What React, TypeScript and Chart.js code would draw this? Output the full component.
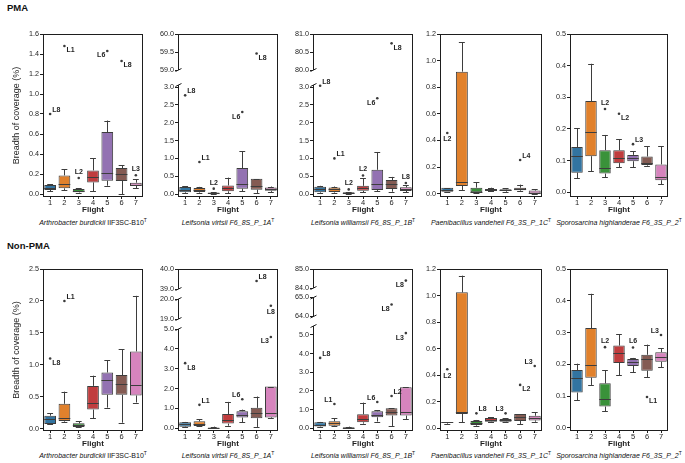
import React, { useEffect, useRef } from 'react';
import { Chart, registerables, LinearScale } from 'chart.js';

Chart.register(...registerables);

const FONT = '"Liberation Sans", Arial, Helvetica, sans-serif';
const INK = '#1e1e1e';
const LINE = '#3d3d3d';
const BOX_COLORS = ['#3274a1', '#e1812c', '#3a923a', '#c03d3e', '#9372b2', '#845b53', '#d684bd'];
const FLIGHTS = ['1', '2', '3', '4', '5', '6', '7'];

// ---- data: [whisker low, Q1, median, Q3, whisker high] per flight ----
const PMA_ARTHRO_STATS = [
  [0.03, 0.04, 0.065, 0.09, 0.10],
  [0.04, 0.057, 0.10, 0.186, 0.25],
  [0.013, 0.017, 0.033, 0.05, 0.057],
  [0.03, 0.116, 0.166, 0.236, 0.36],
  [0.083, 0.133, 0.21, 0.62, 0.735],
  [0.0, 0.13, 0.20, 0.26, 0.286],
  [0.057, 0.083, 0.095, 0.113, 0.15],
];
const PMA_ARTHRO_OUT: [number, number, string][] = [[1, 0.80, 'L8'], [2, 1.48, 'L1'], [3, 0.16, 'L2'], [5, 1.43, 'L6'], [6, 1.33, 'L8'], [7, 0.187, 'L3']];
const PMA_ARTHRO_TICKS = [0, 0.2, 0.4, 0.6, 0.8, 1.0, 1.2, 1.4, 1.6];

const PMA_VIRTSII_STATS = [
  [0.02, 0.047, 0.12, 0.196, 0.22],
  [0.04, 0.056, 0.11, 0.17, 0.20],
  [0.0, 0.005, 0.02, 0.04, 0.05],
  [0.03, 0.075, 0.16, 0.24, 0.46],
  [0.084, 0.15, 0.29, 0.73, 1.20],
  [0.03, 0.12, 0.23, 0.43, 0.43],
  [0.06, 0.09, 0.13, 0.18, 0.21],
];
const PMA_VIRTSII_OUT: [number, number, string][] = [[1, 2.77, 'L8'], [2, 0.90, 'L1'], [3, 0.15, 'L2'], [5, 2.30, 'L6'], [6, 59.46, 'L8']];
const PMA_VIRTSII_TICKS = [0, 0.5, 1.0, 1.5, 2.0, 2.5, 3.0, 59.0, 59.5, 60.0];

const PMA_WILLIAMSII_STATS = [
  [0.03, 0.047, 0.14, 0.205, 0.23],
  [0.04, 0.056, 0.13, 0.186, 0.21],
  [0.0, 0.01, 0.03, 0.047, 0.056],
  [0.05, 0.09, 0.17, 0.23, 0.44],
  [0.084, 0.11, 0.27, 0.68, 1.18],
  [0.065, 0.14, 0.27, 0.39, 0.48],
  [0.056, 0.084, 0.13, 0.187, 0.24],
];
const PMA_WILLIAMSII_OUT: [number, number, string][] = [[1, 3.04, 'L8'], [2, 1.0, 'L1'], [3, 0.13, 'L2'], [4, 0.52, 'L2'], [5, 2.69, 'L6'], [6, 80.74, 'L8'], [7, 0.31, 'L8']];
const PMA_WILLIAMSII_TICKS = [0, 0.5, 1.0, 1.5, 2.0, 2.5, 3.0, 80.0, 80.5, 81.0];

const PMA_VANDEHEII_STATS = [
  [0.015, 0.015, 0.03, 0.045, 0.045],
  [0.028, 0.058, 0.088, 0.917, 1.137],
  [0.008, 0.01, 0.015, 0.045, 0.085],
  [0.018, 0.02, 0.028, 0.035, 0.045],
  [0.015, 0.02, 0.027, 0.033, 0.04],
  [0.02, 0.025, 0.035, 0.045, 0.068],
  [0.0, 0.002, 0.008, 0.023, 0.033],
];
const PMA_VANDEHEII_OUT: [number, number, string][] = [[1, 0.456, 'L2'], [6, 0.253, 'L4']];
const PMA_VANDEHEII_TICKS = [0, 0.2, 0.4, 0.6, 0.8, 1.0, 1.2];

const PMA_HIGHLANDERAE_STATS = [
  [0.045, 0.062, 0.114, 0.143, 0.202],
  [0.067, 0.114, 0.189, 0.288, 0.406],
  [0.047, 0.059, 0.077, 0.133, 0.181],
  [0.079, 0.092, 0.109, 0.133, 0.167],
  [0.079, 0.098, 0.109, 0.118, 0.129],
  [0.084, 0.086, 0.093, 0.113, 0.146],
  [0.025, 0.038, 0.048, 0.088, 0.145],
];
const PMA_HIGHLANDERAE_OUT: [number, number, string][] = [[3, 0.263, 'L2'], [4, 0.248, 'L2'], [5, 0.152, 'L3']];
const PMA_HIGHLANDERAE_TICKS = [0, 0.1, 0.2, 0.3, 0.4, 0.5];

const NON_ARTHRO_STATS = [
  [0.068, 0.073, 0.146, 0.204, 0.24],
  [0.11, 0.12, 0.17, 0.39, 0.58],
  [0.02, 0.026, 0.058, 0.084, 0.115],
  [0.16, 0.30, 0.41, 0.67, 0.83],
  [0.33, 0.53, 0.76, 0.88, 1.07],
  [0.094, 0.53, 0.70, 0.84, 1.245],
  [0.41, 0.52, 0.69, 1.21, 2.08],
];
const NON_ARTHRO_OUT: [number, number, string][] = [[1, 1.10, 'L8'], [2, 2.0, 'L1']];
const NON_ARTHRO_TICKS = [0, 0.5, 1.0, 1.5, 2.0, 2.5];

const NON_VIRTSII_STATS = [
  [0.067, 0.084, 0.20, 0.30, 0.32],
  [0.10, 0.118, 0.236, 0.35, 0.45],
  [0.0, 0.0, 0.02, 0.05, 0.084],
  [0.13, 0.236, 0.40, 0.72, 1.33],
  [0.30, 0.54, 0.69, 0.86, 0.94],
  [0.067, 0.505, 0.76, 1.03, 1.6],
  [0.5, 0.55, 0.78, 2.1, 2.1],
];
const NON_VIRTSII_OUT: [number, number, string][] = [[1, 3.28, 'L8'], [2, 1.18, 'L1'], [5, 1.46, 'L6'], [6, 39.4, 'L8'], [7, 19.66, 'L8'], [7, 4.6, 'L3']];
const NON_VIRTSII_TICKS = [0, 1, 2, 3, 4, 5, 19, 20, 39, 40];

const NON_WILLIAMSII_STATS = [
  [0.07, 0.09, 0.20, 0.32, 0.34],
  [0.125, 0.14, 0.27, 0.375, 0.54],
  [0.0, 0.0, 0.03, 0.07, 0.09],
  [0.25, 0.32, 0.48, 0.75, 1.375],
  [0.36, 0.59, 0.73, 0.91, 0.96],
  [0.125, 0.68, 0.86, 1.07, 1.07],
  [0.5, 0.68, 0.88, 2.2, 2.2],
];
const NON_WILLIAMSII_OUT: [number, number, string][] = [[1, 3.77, 'L8'], [2, 1.3, 'L1'], [5, 1.41, 'L6'], [6, 1.73, 'L2'], [6, 64.63, 'L8'], [7, 84.39, 'L8'], [7, 5.1, 'L3']];
const NON_WILLIAMSII_TICKS = [0, 1, 2, 3, 4, 5, 64, 65, 84, 85];

const NON_VANDEHEII_STATS = [
  [0.035, 0.044, 0.046, 0.048, 0.048],
  [0.045, 0.108, 0.123, 1.024, 1.15],
  [0.02, 0.025, 0.043, 0.055, 0.063],
  [0.048, 0.05, 0.065, 0.078, 0.085],
  [0.048, 0.05, 0.06, 0.07, 0.075],
  [0.033, 0.055, 0.088, 0.108, 0.108],
  [0.05, 0.06, 0.08, 0.095, 0.12],
];
const NON_VANDEHEII_OUT: [number, number, string][] = [[1, 0.445, 'L2'], [3, 0.113, 'L8'], [5, 0.113, 'L3'], [6, 0.327, 'L2'], [7, 0.47, 'L3']];
const NON_VANDEHEII_TICKS = [0, 0.2, 0.4, 0.6, 0.8, 1.0, 1.2];

const NON_HIGHLANDERAE_STATS = [
  [0.087, 0.111, 0.157, 0.182, 0.202],
  [0.135, 0.158, 0.197, 0.314, 0.422],
  [0.052, 0.067, 0.091, 0.14, 0.181],
  [0.166, 0.204, 0.237, 0.259, 0.295],
  [0.175, 0.195, 0.208, 0.217, 0.22],
  [0.16, 0.18, 0.217, 0.23, 0.262],
  [0.19, 0.208, 0.224, 0.238, 0.25],
];
const NON_HIGHLANDERAE_OUT: [number, number, string][] = [[3, 0.254, 'L2'], [5, 0.253, 'L6'], [6, 0.097, 'L1'], [7, 0.292, 'L3']];
const NON_HIGHLANDERAE_TICKS = [0, 0.1, 0.2, 0.3, 0.4, 0.5];

// ---- label placement (style, kept apart from the data) ----
const PMA_ARTHRO_POS = ['ur', 'dr', 'a', 'dl', 'dr', 'a'];
const PMA_VIRTSII_POS = ['ur', 'ur', 'a', 'dl', 'dr'];
const PMA_WILLIAMSII_POS = ['ur', 'ur', 'a', 'a', 'dl', 'dr', 'a'];
const PMA_VANDEHEII_POS = ['b', 'ur'];
const PMA_HIGHLANDERAE_POS = ['a', 'dr', 'ur'];
const NON_ARTHRO_POS = ['dr', 'ur'];
const NON_VIRTSII_POS = ['dr', 'ur', 'ul', 'ur', 'b', 'dl'];
const NON_WILLIAMSII_POS = ['ur', 'ul', 'ul', 'ur', 'dl', 'dl', 'dl'];
const NON_VANDEHEII_POS = ['b', 'ur', 'ul', 'dr', 'ul'];
const NON_HIGHLANDERAE_POS = ['a', 'a', 'dr', 'ul'];

type Seg = { min: number; max: number; h: number };
type PanelCfg = {
  row: number; col: number; left: number; width: number;
  stats: number[][]; out: [number, number, string][]; pos: string[]; ticks: number[];
  segs: Seg[]; gap: number; species: string; strain: string; strainItalic: boolean;
};

const LEFTS = [43, 178, 313, 440, 570];
const WIDTHS = [100, 100, 100, 102, 98];

const PANELS: PanelCfg[] = [
  { row: 0, col: 0, left: LEFTS[0], width: WIDTHS[0], stats: PMA_ARTHRO_STATS, out: PMA_ARTHRO_OUT, pos: PMA_ARTHRO_POS, ticks: PMA_ARTHRO_TICKS,
    segs: [{ min: -0.03, max: 1.6, h: 163 }], gap: 0, species: 'Arthrobacter burdickii', strain: 'IIF3SC-B10', strainItalic: false },
  { row: 0, col: 1, left: LEFTS[1], width: WIDTHS[1], stats: PMA_VIRTSII_STATS, out: PMA_VIRTSII_OUT, pos: PMA_VIRTSII_POS, ticks: PMA_VIRTSII_TICKS,
    segs: [{ min: -0.084, max: 3.06, h: 112 }, { min: 59, max: 60, h: 36 }], gap: 15, species: 'Leifsonia virtsii', strain: 'F6_8S_P_1A', strainItalic: true },
  { row: 0, col: 2, left: LEFTS[2], width: WIDTHS[2], stats: PMA_WILLIAMSII_STATS, out: PMA_WILLIAMSII_OUT, pos: PMA_WILLIAMSII_POS, ticks: PMA_WILLIAMSII_TICKS,
    segs: [{ min: -0.084, max: 3.06, h: 112 }, { min: 80, max: 81, h: 36 }], gap: 15, species: 'Leifsonia williamsii', strain: 'F6_8S_P_1B', strainItalic: true },
  { row: 0, col: 3, left: LEFTS[3], width: WIDTHS[3], stats: PMA_VANDEHEII_STATS, out: PMA_VANDEHEII_OUT, pos: PMA_VANDEHEII_POS, ticks: PMA_VANDEHEII_TICKS,
    segs: [{ min: -0.025, max: 1.2, h: 163 }], gap: 0, species: 'Paenibacillus vandeheii', strain: 'F6_3S_P_1C', strainItalic: true },
  { row: 0, col: 4, left: LEFTS[4], width: WIDTHS[4], stats: PMA_HIGHLANDERAE_STATS, out: PMA_HIGHLANDERAE_OUT, pos: PMA_HIGHLANDERAE_POS, ticks: PMA_HIGHLANDERAE_TICKS,
    segs: [{ min: -0.015, max: 0.5, h: 163 }], gap: 0, species: 'Sporosarcina highlanderae', strain: 'F6_3S_P_2', strainItalic: true },
  { row: 1, col: 0, left: LEFTS[0], width: WIDTHS[0], stats: NON_ARTHRO_STATS, out: NON_ARTHRO_OUT, pos: NON_ARTHRO_POS, ticks: NON_ARTHRO_TICKS,
    segs: [{ min: -0.036, max: 2.5, h: 162 }], gap: 0, species: 'Arthrobacter burdickii', strain: 'IIF3SC-B10', strainItalic: false },
  { row: 1, col: 1, left: LEFTS[1], width: WIDTHS[1], stats: NON_VIRTSII_STATS, out: NON_VIRTSII_OUT, pos: NON_VIRTSII_POS, ticks: NON_VIRTSII_TICKS,
    segs: [{ min: -0.136, max: 5.0, h: 102 }, { min: 19, max: 20, h: 20 }, { min: 39, max: 40, h: 20 }], gap: 10, species: 'Leifsonia virtsii', strain: 'F6_8S_P_1A', strainItalic: true },
  { row: 1, col: 2, left: LEFTS[2], width: WIDTHS[2], stats: NON_WILLIAMSII_STATS, out: NON_WILLIAMSII_OUT, pos: NON_WILLIAMSII_POS, ticks: NON_WILLIAMSII_TICKS,
    segs: [{ min: -0.145, max: 5.48, h: 105 }, { min: 64, max: 65, h: 19 }, { min: 84, max: 85, h: 19 }], gap: 9.5, species: 'Leifsonia williamsii', strain: 'F6_8S_P_1B', strainItalic: true },
  { row: 1, col: 3, left: LEFTS[3], width: WIDTHS[3], stats: NON_VANDEHEII_STATS, out: NON_VANDEHEII_OUT, pos: NON_VANDEHEII_POS, ticks: NON_VANDEHEII_TICKS,
    segs: [{ min: -0.02, max: 1.2, h: 162 }], gap: 0, species: 'Paenibacillus vandeheii', strain: 'F6_3S_P_1C', strainItalic: true },
  { row: 1, col: 4, left: LEFTS[4], width: WIDTHS[4], stats: NON_HIGHLANDERAE_STATS, out: NON_HIGHLANDERAE_OUT, pos: NON_HIGHLANDERAE_POS, ticks: NON_HIGHLANDERAE_TICKS,
    segs: [{ min: -0.01, max: 0.5, h: 162 }], gap: 0, species: 'Sporosarcina highlanderae', strain: 'F6_3S_P_2', strainItalic: true },
];

const ROW_TOP = [28, 263];
const ROW_H = [187, 186];
const PAD_TOP = 6;
const X_AXIS_H = 18;
const PAD_RIGHT = 4;

function panelOf(chart: any): PanelCfg {
  return PANELS[Number(chart.canvas.dataset.panel)];
}

// Piecewise (broken) linear value axis
class BrokenScale extends (LinearScale as any) {
  static id = 'broken';
  static defaults = {};
  determineDataLimits() {
    const segs = panelOf(this.chart).segs;
    this.min = segs[0].min;
    this.max = segs[segs.length - 1].max;
  }
  buildTicks() {
    return panelOf(this.chart).ticks.map((value) => ({ value }));
  }
  getPixelForValue(v: number) {
    const { segs, gap } = panelOf(this.chart);
    const total = segs.reduce((a, s) => a + s.h, 0) + gap * (segs.length - 1);
    const k = (this.bottom - this.top) / total;
    let base = this.bottom;
    for (let i = 0; i < segs.length; i++) {
      const s = segs[i];
      const h = s.h * k;
      if (v <= s.max || i === segs.length - 1) {
        const t = Math.min(1, Math.max(0, (v - s.min) / (s.max - s.min)));
        return base - t * h;
      }
      base -= h + gap * k;
    }
    return this.bottom;
  }
  getValueForPixel(px: number) {
    const { segs, gap } = panelOf(this.chart);
    const total = segs.reduce((a, s) => a + s.h, 0) + gap * (segs.length - 1);
    const k = (this.bottom - this.top) / total;
    let base = this.bottom;
    for (let i = 0; i < segs.length; i++) {
      const s = segs[i];
      const h = s.h * k;
      if (px >= base - h || i === segs.length - 1) {
        return s.min + ((base - px) / h) * (s.max - s.min);
      }
      base -= h + gap * k;
    }
    return segs[0].min;
  }
}
Chart.register(BrokenScale as any);

const LABEL_OFF: Record<string, [number, number, CanvasTextAlign]> = {
  ur: [2, -4, 'left'],
  dr: [2, 4.5, 'left'],
  ul: [-2, -4, 'right'],
  dl: [-2, 4.5, 'right'],
  a: [0, -6, 'center'],
  b: [0, 6.5, 'center'],
};

const crisp = (v: number) => Math.round(v) + 0.5;

const boxPlugin = {
  id: 'boxDecor',
  afterDatasetsDraw(chart: any) {
    const p = panelOf(chart);
    const ctx: CanvasRenderingContext2D = chart.ctx;
    const xs = chart.scales.x;
    const ys = chart.scales.y;
    const ca = chart.chartArea;
    const catW = (ca.right - ca.left) / FLIGHTS.length;
    const boxW = catW * 0.82;
    const capW = boxW * 0.5;
    ctx.save();
    ctx.strokeStyle = LINE;
    ctx.lineWidth = 1;
    const seg = (x1: number, y1: number, x2: number, y2: number) => {
      ctx.beginPath();
      ctx.moveTo(x1, y1);
      ctx.lineTo(x2, y2);
      ctx.stroke();
    };
    p.stats.forEach((s, i) => {
      const cx = xs.getPixelForValue(i);
      const [wlo, q1, med, q3, whi] = s.map((v) => ys.getPixelForValue(v));
      const xc = crisp(cx);
      seg(xc, q1, xc, wlo);
      seg(cx - capW / 2, crisp(wlo), cx + capW / 2, crisp(wlo));
      seg(xc, q3, xc, whi);
      seg(cx - capW / 2, crisp(whi), cx + capW / 2, crisp(whi));
      seg(cx - boxW / 2, crisp(med), cx + boxW / 2, crisp(med));
    });

    // frame
    ctx.strokeStyle = INK;
    const L = crisp(ca.left);
    const R = crisp(ca.right - 1);
    const T = crisp(ca.top);
    const B = crisp(ca.bottom - 1);
    seg(L - 0.5, T, R + 0.5, T);
    seg(R, T, R, B);
    seg(L - 0.5, B, R + 0.5, B);
    p.segs.forEach((s, i) => {
      const y1 = i === 0 ? B : ys.getPixelForValue(s.min);
      const y2 = i === p.segs.length - 1 ? T : ys.getPixelForValue(s.max);
      seg(L, y1, L, y2);
    });
    for (let i = 0; i < p.segs.length - 1; i++) {
      const yTop = ys.getPixelForValue(p.segs[i].max);
      const yBot = ys.getPixelForValue(p.segs[i + 1].min);
      [yTop, yBot].forEach((yy) => seg(L - 3, yy + 1.5, L + 3, yy - 1.5));
    }

    // outlier labels
    const meta = chart.getDatasetMeta(1);
    ctx.fillStyle = INK;
    ctx.font = `bold 7px ${FONT}`;
    ctx.textBaseline = 'middle';
    p.out.forEach((o, j) => {
      const el = meta.data[j];
      if (!el) return;
      const [dx, dy, align] = LABEL_OFF[p.pos[j]] || LABEL_OFF.ur;
      ctx.textAlign = align;
      ctx.fillText(o[2], el.x + dx, el.y + dy);
    });
    ctx.restore();
  },
};

function Panel({ index }: { index: number }) {
  const ref = useRef<HTMLCanvasElement | null>(null);
  const p = PANELS[index];
  const yW = p.col === 0 ? 43 : 30;
  const w = yW + p.width + PAD_RIGHT;
  const h = ROW_H[p.row];
  const left = p.left - yW;
  const top = ROW_TOP[p.row];

  useEffect(() => {
    if (!ref.current) return;
    const chart = new Chart(ref.current, {
      type: 'bar',
      data: {
        labels: FLIGHTS,
        datasets: [
          {
            type: 'bar',
            data: p.stats.map((s) => [s[1], s[3]]),
            backgroundColor: BOX_COLORS,
            borderColor: LINE,
            borderWidth: 1,
            borderSkipped: false,
            barPercentage: 0.82,
            categoryPercentage: 1,
          } as any,
          {
            type: 'scatter',
            data: p.out.map((o) => ({ x: FLIGHTS[o[0] - 1], y: o[1] })),
            pointStyle: 'circle',
            pointRadius: 1.3,
            pointBackgroundColor: '#3a3a3a',
            pointBorderWidth: 0,
            showLine: false,
          } as any,
        ],
      },
      options: {
        responsive: false,
        maintainAspectRatio: false,
        animation: false,
        events: [],
        devicePixelRatio: 1,
        layout: { padding: { top: PAD_TOP, right: PAD_RIGHT, left: 0, bottom: 0 } },
        plugins: { legend: { display: false }, tooltip: { enabled: false } },
        scales: {
          x: {
            type: 'category',
            offset: true,
            grid: { display: true, drawOnChartArea: false, drawTicks: true, tickLength: 2, color: INK, offset: false },
            border: { display: false },
            ticks: { font: { size: 7.5, family: FONT }, color: INK, padding: -1, maxRotation: 0, autoSkip: false },
            title: { display: true, text: 'Flight', font: { size: 8, weight: 'bold', family: FONT }, color: INK, padding: 0 },
            afterFit: (s: any) => { s.height = X_AXIS_H; },
          },
          y: {
            type: 'broken',
            grid: { display: true, drawOnChartArea: false, drawTicks: true, tickLength: 3, color: INK },
            border: { display: false },
            ticks: {
              autoSkip: false,
              font: { size: 7.2, family: FONT },
              color: INK,
              padding: 1,
              callback: (v: any) => Number(v).toFixed(1),
            },
            title: {
              display: p.col === 0,
              text: 'Breadth of coverage (%)',
              font: { size: 9, family: FONT },
              color: INK,
              padding: { top: 11.5, bottom: 0 },
            },
            afterFit: (s: any) => { s.width = yW; },
          } as any,
        },
      } as any,
      plugins: [boxPlugin as any],
    });
    return () => chart.destroy();
  }, [index]);

  return (
    <canvas
      ref={ref}
      data-panel={index}
      width={w}
      height={h}
      style={{ position: 'absolute', left, top, width: w, height: h }}
    />
  );
}

function Species({ p }: { p: PanelCfg }) {
  const center = p.left + p.width / 2;
  const top = p.row === 0 ? 217.5 : 450.5;
  return (
    <div
      style={{
        position: 'absolute', left: center - 100, width: 200, top, height: 10, lineHeight: '10px',
        textAlign: 'center', fontSize: 7, fontFamily: FONT, color: '#111', whiteSpace: 'nowrap',
      }}
    >
      <i>{p.species}</i>{' '}
      {p.strainItalic ? <i>{p.strain}</i> : <span>{p.strain}</span>}
      <span style={{ fontSize: 5, position: 'relative', top: -3 }}>T</span>
    </div>
  );
}

export default function App() {
  return (
    <div
      style={{
        position: 'fixed', left: 0, top: 0, width: 685, height: 463, background: '#fff',
        overflow: 'hidden', fontFamily: FONT,
      }}
    >
      <div style={{ position: 'absolute', left: 7, top: 2, fontSize: 9.5, fontWeight: 'bold', lineHeight: '11px', color: '#111' }}>PMA</div>
      <div style={{ position: 'absolute', left: 7, top: 240, fontSize: 9.5, fontWeight: 'bold', lineHeight: '11px', color: '#111' }}>Non-PMA</div>
      {PANELS.map((p, i) => (
        <Panel key={i} index={i} />
      ))}
      {PANELS.map((p, i) => (
        <Species key={'s' + i} p={p} />
      ))}
    </div>
  );
}
